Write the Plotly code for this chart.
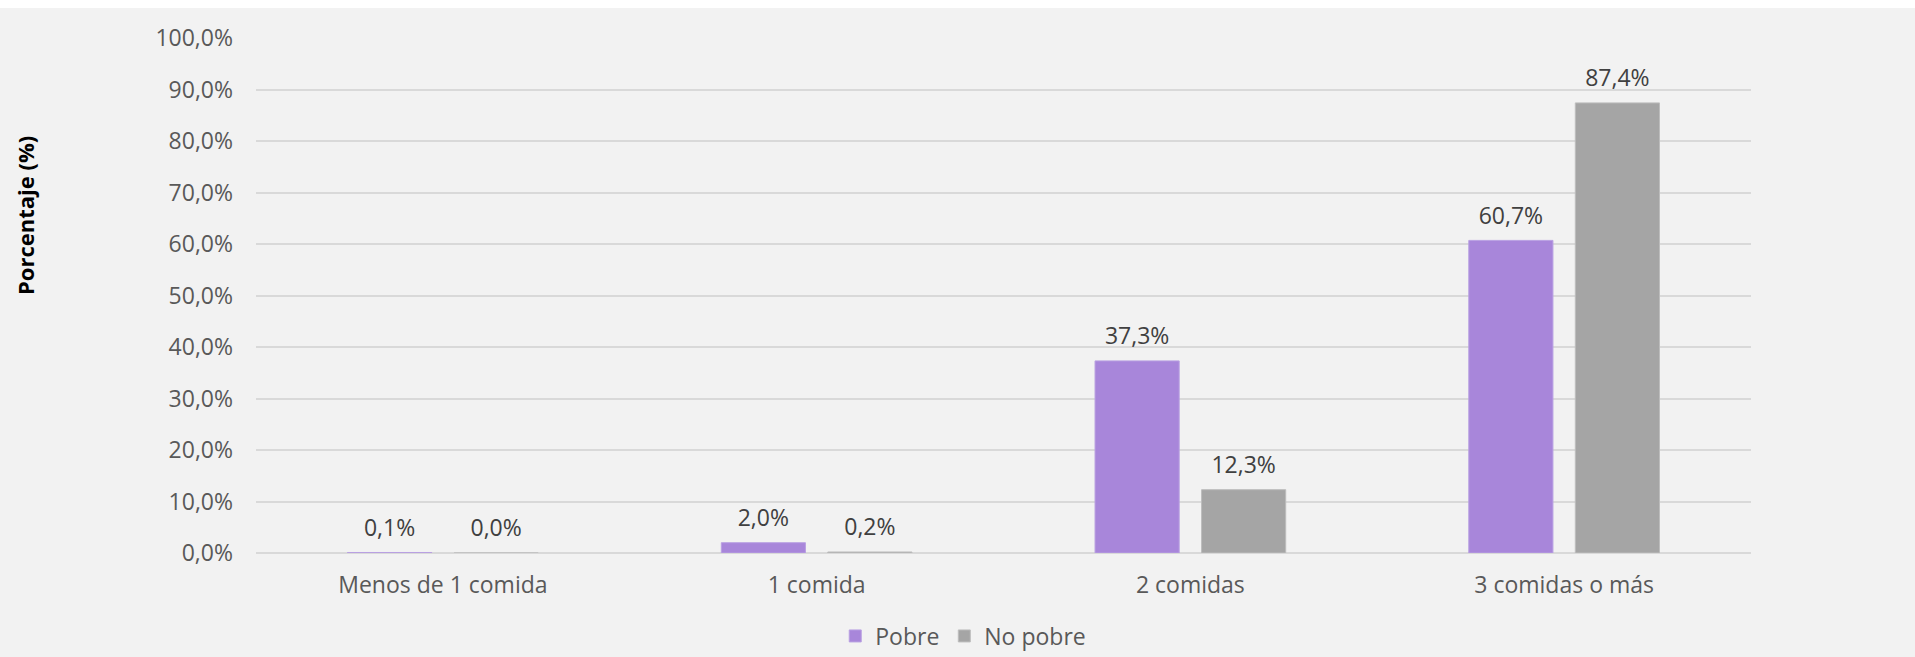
import plotly.graph_objects as go

# Datos del gráfico
categorias = ["Menos de 1 comida", "1 comida", "2 comidas", "3 comidas o más"]
pobre = [0.1, 2.0, 37.3, 60.7]
no_pobre = [0.0, 0.2, 12.3, 87.4]
series = ["Pobre", "No pobre"]
y_ticks = [0, 10, 20, 30, 40, 50, 60, 70, 80, 90, 100]

FONT = "Open Sans, Noto Sans, sans-serif"
BG = "#F2F2F2"
GAP = 0.43


def fmt(v):
    return f"{v:.1f}".replace(".", ",") + "%"


fig = go.Figure()

estilos = [
    (series[0], pobre, "#A886DA", "#B9A0E2"),
    (series[1], no_pobre, "#A5A5A5", "#BDBDBD"),
]

for name, values, color, line_color in estilos:
    fig.add_trace(
        go.Bar(
            x=categorias,
            y=values,
            name=name,
            offsetgroup=name,
            marker=dict(color=color, line=dict(color=line_color, width=1)),
            hovertemplate="%{x}: %{y:.1f}%<extra>" + name + "</extra>",
        )
    )

# Etiquetas de datos (scatter agrupado, alineado con las barras)
for name, values, color, line_color in estilos:
    fig.add_trace(
        go.Scatter(
            x=categorias,
            y=values,
            offsetgroup=name,
            mode="markers+text",
            marker=dict(size=16, opacity=0),
            text=[fmt(v) for v in values],
            textposition="top center",
            textfont=dict(family=FONT, size=23, color="#404040"),
            showlegend=False,
            hoverinfo="skip",
            cliponaxis=False,
        )
    )

fig.update_layout(
    width=1915,
    height=657,
    paper_bgcolor=BG,
    plot_bgcolor=BG,
    barmode="group",
    bargap=GAP,
    bargroupgap=0.21,
    scattermode="group",
    scattergap=GAP,
    margin=dict(l=256, r=164, t=38, b=104, pad=0, autoexpand=False),
    font=dict(family=FONT, size=23, color="#595959"),
    showlegend=True,
    legend=dict(
        orientation="h",
        xref="container",
        yref="container",
        x=0.503,
        xanchor="center",
        y=0.032,
        yanchor="middle",
        font=dict(family=FONT, size=23, color="#595959"),
        bgcolor="rgba(0,0,0,0)",
        itemwidth=30,
    ),
    annotations=[
        dict(
            text="<b>Porcentaje (%)</b>",
            textangle=-90,
            xref="paper",
            yref="paper",
            x=-0.155,
            y=0.655,
            xanchor="center",
            yanchor="middle",
            showarrow=False,
            font=dict(family=FONT, size=22, color="#000000"),
        )
    ],
    shapes=[
        dict(
            type="rect",
            xref="paper",
            yref="paper",
            x0=-0.2,
            x1=1.2,
            y0=1.0583,
            y1=1.1,
            fillcolor="#FFFFFF",
            line=dict(width=0),
            layer="below",
        )
    ],
)

fig.update_xaxes(
    showgrid=False,
    showline=False,
    ticks="",
    tickangle=0,
    tickfont=dict(family=FONT, size=23, color="#595959"),
    ticklabelstandoff=16,
)
fig.update_yaxes(
    range=[0, 100],
    tickvals=y_ticks,
    ticktext=[fmt(v) for v in y_ticks],
    showgrid=True,
    gridcolor="#D9D9D9",
    gridwidth=2,
    zeroline=True,
    zerolinecolor="#D9D9D9",
    zerolinewidth=2,
    ticks="",
    tickfont=dict(family=FONT, size=23, color="#595959"),
    ticklabelstandoff=22,
)

fig.write_html(
    "out.html",
    config={"displayModeBar": False},
    post_script="document.body.style.margin='0';",
)
